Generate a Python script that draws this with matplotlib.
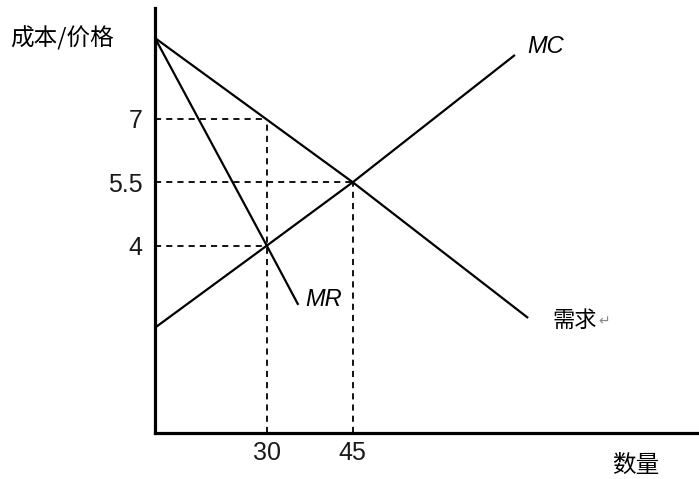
import matplotlib
matplotlib.use('Agg')
import matplotlib.pyplot as plt

plt.rcParams['font.family'] = ['Liberation Sans', 'Noto Sans CJK SC', 'DejaVu Sans']

# values (quantity, price)
price_ticks = [4, 5.5, 7]
qty_ticks = [30, 45]

demand_q = [10.5, 45, 75.6]
demand_p = [8.91, 5.5, 2.29]
mr_q = [10.5, 30, 35.5]
mr_p = [8.91, 4, 2.6]
mc_q = [10.5, 30, 45, 73.3]
mc_p = [2.06, 4, 5.5, 8.51]

# dashed guides: (q, p) points
guide_q = [30, 45, 30]
guide_p = [7, 5.5, 4]

fig = plt.figure(figsize=(6.99, 4.79), dpi=100)
ax = fig.add_axes([155/699, 46/479, 542/699, 425/479])
ax.set_xlim(10.5, 105.06)
ax.set_ylim(-0.43, 9.62)

ax.plot(demand_q, demand_p, color='black', lw=1.6, solid_capstyle='butt')
ax.plot(mr_q, mr_p, color='black', lw=1.6, solid_capstyle='butt')
ax.plot(mc_q, mc_p, color='black', lw=1.6, solid_capstyle='butt')

for q, p in zip(guide_q, guide_p):
    ax.plot([10.5, q], [p, p], color='black', lw=1.3, linestyle=(0, (3.4, 2.8)))
for q, p in zip(qty_ticks, [7, 5.5]):
    ax.plot([q, q], [-0.43, p], color='black', lw=1.3, linestyle=(0, (3.4, 2.8)))

ax.spines['top'].set_visible(False)
ax.spines['right'].set_visible(False)
ax.spines['left'].set_linewidth(2.3)
ax.spines['bottom'].set_linewidth(2.3)

ax.set_yticks(price_ticks)
ax.set_yticklabels(['4', '5.5', '7'])
ax.set_xticks(qty_ticks)
ax.set_xticklabels(['30', '45'])
ax.tick_params(length=0, labelsize=18, colors='#1a1a1a')
ax.tick_params(axis='y', pad=9)
ax.tick_params(axis='x', pad=6)

ax.text(75.4, 8.7, 'MC', fontsize=17, style='italic', ha='left', va='center')
ax.text(36.7, 2.72, 'MR', fontsize=17, style='italic', ha='left', va='center')
ax.text(79.9, 2.22, '需求', fontsize=16, ha='left', va='center',
        family=['Noto Sans CJK SC'])
ax.text(87.9, 2.22, '↵', fontsize=10, ha='left', va='center', color='#888888',
        family=['DejaVu Sans'])

fig.text(10/699, 1 - 38/479, '成本/价格', fontsize=17, ha='left', va='center',
         family=['Noto Sans CJK SC'])
fig.text(612/699, 1 - 465/479, '数量', fontsize=17, ha='left', va='center',
         family=['Noto Sans CJK SC'])

fig.savefig('out.png', dpi=100)
